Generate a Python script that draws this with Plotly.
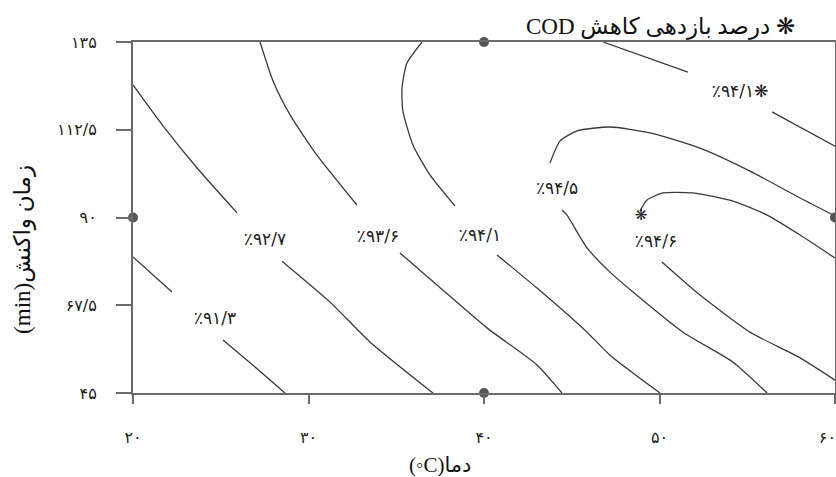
import plotly.graph_objects as go

# Axis ticks (Persian numerals); the last label is padded so it sits inside the page edge
temp_ticks = [20, 30, 40, 50, 60]
temp_ticktext = ["۲۰", "۳۰", "۴۰", "۵۰", "۶۰\u00a0\u00a0\u00a0"]
time_ticks = [45, 67.5, 90, 112.5, 135]
time_ticktext = ["۴۵", "۶۷/۵", "۹۰", "۱۱۲/۵", "۱۳۵"]

# Design points of the experiment (temperature, time)
design_temp = [20, 40, 40, 60]
design_time = [90, 135, 45, 90]

# Iso-response lines of COD removal (%); None splits a line where its label sits
iso_913_temp = [20.0, 22.22, None, 25.13, 26.89, 28.66]
iso_913_time = [79.9, 70.9, None, 58.6, 51.9, 45.0]

iso_927_temp = [20.0, 21.71, 23.65, 25.93, None, 28.49, 31.23, 33.50, 37.09]
iso_927_time = [124.0, 113.5, 102.7, 91.2, None, 78.8, 68.3, 58.1, 45.0]

iso_936_temp = [27.24, 27.98, 28.95, 30.48, 32.76, None, 35.21, 37.32, 40.17, 43.02, 44.44]
iso_936_time = [135.0, 125.0, 116.3, 106.0, 93.2, None, 80.9, 72.7, 61.7, 52.2, 45.0]

iso_941_temp = [36.47, 35.60, 35.33, 35.38, 35.95, 36.92, 38.35, None,
                40.74, 43.02, 45.87, 47.18, 50.03, None,
                46.78, 51.62, None, 56.41, 60.0]
iso_941_time = [135.0, 129.5, 123.2, 117.3, 108.6, 100.9, 92.9, None,
                80.4, 71.9, 60.6, 54.7, 45.0, None,
                135.0, 127.3, None, 117.1, 108.3]

iso_945_temp = [43.76, 44.33, 45.30, 47.18, 49.46, 52.31, 55.16, 58.01, 60.0, None,
                44.44, 44.73, 45.87, 47.18, 48.49, 51.34, 54.19, 56.13]
iso_945_time = [104.0, 109.6, 112.2, 113.2, 111.7, 107.8, 101.9, 95.0, 90.4, None,
                91.9, 90.6, 82.2, 76.0, 70.9, 60.6, 52.9, 45.0]

iso_946_temp = [48.89, 49.29, 50.20, 51.91, 54.19, 56.13, 58.01, 60.0, None,
                50.14, 52.31, 55.16, 58.01, 60.0]
iso_946_time = [91.7, 94.5, 96.3, 96.3, 94.2, 90.6, 85.5, 79.6, None,
                78.6, 70.1, 60.6, 54.0, 48.3]

# Level labels and where they are written
label_text = ["٪۹۱/۳", "٪۹۲/۷", "٪۹۳/۶", "٪۹۴/۱", "٪۹۴/۵", "٪۹۴/۶", "٪۹۴/۱❋"]
label_temp = [24.67, 27.52, 33.96, 39.77, 44.16, 49.80, 54.59]
label_time = [63.7, 84.0, 84.7, 85.0, 97.1, 83.5, 121.9]

# Optimum point
opt_temp = [48.95]
opt_time = [90.4]

LINE = "#3a3a3a"
FRAME = "#6a6a6a"
DIGIT_FONT = "DejaVu Sans"
TEXT_FONT = "Liberation Serif, DejaVu Sans"

fig = go.Figure()

iso_lines = [
    (iso_913_temp, iso_913_time),
    (iso_927_temp, iso_927_time),
    (iso_936_temp, iso_936_time),
    (iso_941_temp, iso_941_time),
    (iso_945_temp, iso_945_time),
    (iso_946_temp, iso_946_time),
]
for xs, ys in iso_lines:
    fig.add_trace(go.Scatter(
        x=xs, y=ys, mode="lines", connectgaps=False,
        line=dict(color=LINE, width=1.3, shape="spline", smoothing=0.6),
        hoverinfo="skip", showlegend=False,
    ))

fig.add_trace(go.Scatter(
    x=label_temp, y=label_time, mode="text", text=label_text,
    textfont=dict(family=DIGIT_FONT, size=17, color="#222"),
    textposition="middle center", hoverinfo="skip", showlegend=False,
))

fig.add_trace(go.Scatter(
    x=opt_temp, y=opt_time, mode="text", text=["❋"],
    textfont=dict(family=DIGIT_FONT, size=15, color="#222"),
    textposition="middle center", hoverinfo="skip", showlegend=False,
))

fig.add_trace(go.Scatter(
    x=design_temp, y=design_time, mode="markers",
    marker=dict(symbol="circle", size=10, color="#555"),
    cliponaxis=False, hoverinfo="skip", showlegend=False,
))

fig.update_xaxes(
    range=[20, 60], tickvals=temp_ticks, ticktext=temp_ticktext,
    showgrid=False, zeroline=False, automargin=False,
    showline=True, mirror=True, linecolor=FRAME, linewidth=2,
    ticks="outside", ticklen=9, tickwidth=1.5, tickcolor=FRAME,
    tickfont=dict(family=DIGIT_FONT, size=16, color="#222"),
    ticklabelstandoff=20, ticklabeloverflow="allow",
)
fig.update_yaxes(
    range=[45, 135], tickvals=time_ticks, ticktext=time_ticktext,
    showgrid=False, zeroline=False, automargin=False,
    showline=True, mirror=True, linecolor=FRAME, linewidth=2,
    ticks="outside", ticklen=15, tickwidth=1.5, tickcolor=FRAME,
    tickfont=dict(family=DIGIT_FONT, size=16, color="#222"),
    ticklabelstandoff=16,
)

fig.update_layout(
    width=836, height=477,
    margin=dict(l=133, r=1, t=42, b=84),
    paper_bgcolor="white", plot_bgcolor="white",
    annotations=[
        dict(text="COD درصد بازدهی کاهش ❋", xref="paper", yref="paper",
             x=0.752, y=1.043, xanchor="center", yanchor="middle",
             showarrow=False, font=dict(family=TEXT_FONT, size=23, color="#111")),
        dict(text="(◦C)دما", xref="paper", yref="paper",
             x=0.437, y=-0.205, xanchor="center", yanchor="middle",
             showarrow=False, font=dict(family=TEXT_FONT, size=21, color="#111")),
        dict(text="(min)زمان واکنش", xref="paper", yref="paper",
             x=-0.157, y=0.41, xanchor="center", yanchor="middle",
             textangle=-90, showarrow=False,
             font=dict(family=TEXT_FONT, size=23, color="#111")),
    ],
)

fig.write_html("out.html")
